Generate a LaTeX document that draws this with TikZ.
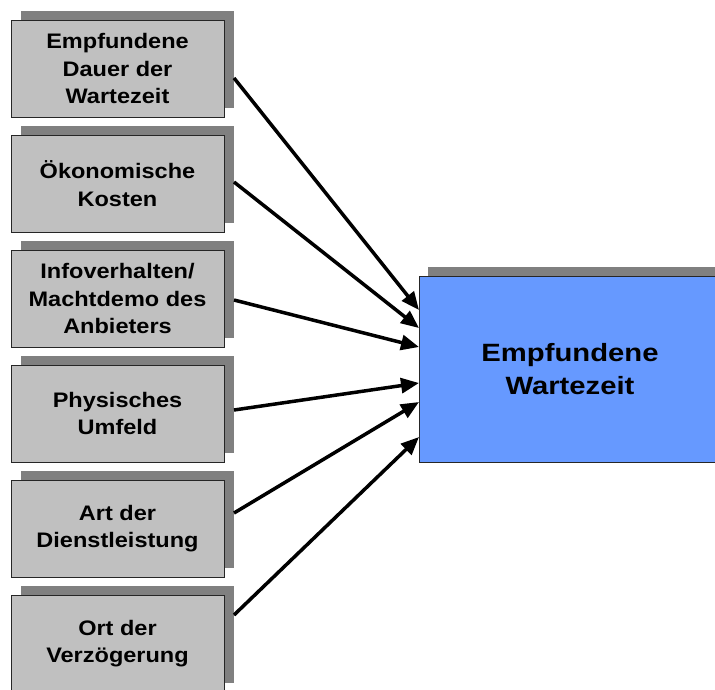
\documentclass[tikz,border=0pt]{standalone}
\usepackage{fontspec}
\setmainfont{Liberation Sans}
\newfontfamily\factorfont[FakeStretch=1.12]{Liberation Sans}
\newfontfamily\goalfont[FakeStretch=1.17]{Liberation Sans}
\usetikzlibrary{arrows.meta,shadows}
\definecolor{boxgray}{HTML}{C0C0C0}
\definecolor{shadegray}{HTML}{808080}
\definecolor{goalblue}{HTML}{6699FF}
\begin{document}
\begin{tikzpicture}[x=1pt,y=-1pt,
  factor/.style={draw=black!85, line width=0.9pt, fill=boxgray,
    minimum width=213pt, minimum height=97pt, inner sep=0pt, outer sep=0pt,
    align=center, anchor=north west,
    font=\factorfont\bfseries\fontsize{21}{27.5}\selectfont,
    general shadow={fill=shadegray, shadow xshift=9.5pt, shadow yshift=9pt}},
  goal/.style={draw=black!85, line width=0.9pt, fill=goalblue,
    minimum width=302pt, minimum height=186pt, inner sep=0pt, outer sep=0pt,
    align=center, anchor=north west,
    font=\goalfont\bfseries\fontsize{25}{33.5}\selectfont,
    general shadow={fill=shadegray, shadow xshift=9pt, shadow yshift=9pt}},
  link/.style={line width=3.5pt, -{Triangle[length=18pt,width=15pt]}}]
\useasboundingbox (0,0) rectangle (715,689);
\clip (0,0) rectangle (715,689);
% influencing factors
\node[factor] (b1) at (11,20)  {Empfundene\\Dauer der\\Wartezeit};
\node[factor] (b2) at (11,135) {Ökonomische\\Kosten};
\node[factor] (b3) at (11,250) {Infoverhalten/\\Machtdemo des\\Anbieters};
\node[factor] (b4) at (11,365) {Physisches\\Umfeld};
\node[factor] (b5) at (11,480) {Art der\\Dienstleistung};
\node[factor] (b6) at (11,595) {Ort der\\Verzögerung};
% perceived waiting time
\node[goal] (g) at (419,276) {Empfundene\\Wartezeit};
% connectors
\draw[link] ([xshift=10pt,yshift=-9.5pt]b1.east) -- ([yshift=59pt]g.west);
\draw[link] ([xshift=10pt,yshift=1.5pt]b2.east)  -- ([yshift=41pt]g.west);
\draw[link] ([xshift=10pt,yshift=-1.5pt]b3.east) -- ([yshift=22pt]g.west);
\draw[link] ([xshift=10pt,yshift=3.5pt]b4.east)  -- ([yshift=-14pt]g.west);
\draw[link] ([xshift=10pt,yshift=15.5pt]b5.east) -- ([yshift=-33pt]g.west);
\draw[link] ([xshift=10pt,yshift=28.5pt]b6.east) -- ([yshift=-68pt]g.west);
\end{tikzpicture}
\end{document}
